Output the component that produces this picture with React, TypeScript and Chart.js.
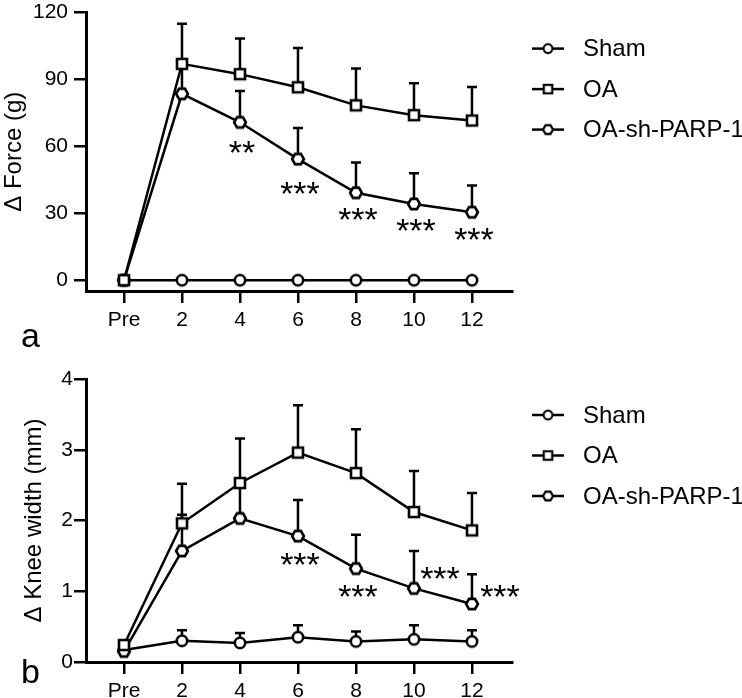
import React, { useEffect, useRef } from 'react';
import { Chart, registerables } from 'chart.js';

Chart.register(...registerables);

// ---------- data ----------
const X_LABELS = ['Pre', '2', '4', '6', '8', '10', '12'];
const SERIES_NAMES = ['Sham', 'OA', 'OA-sh-PARP-1'];

const FORCE_SHAM = [0, 0, 0, 0, 0, 0, 0];
const FORCE_SHAM_SD = [0, 0, 0, 0, 0, 0, 0];
const FORCE_OA = [0, 97, 92.4, 86.5, 78.4, 74, 71.6];
const FORCE_OA_SD = [0, 18, 16, 17.6, 16.5, 14.3, 15];
const FORCE_SH = [0, 83.6, 70.8, 54.3, 39.2, 34.2, 30.5];
const FORCE_SH_SD = [0, 12, 14, 14, 13.6, 13.8, 12];
const FORCE_SIG = ['', '', '**', '***', '***', '***', '***'];
const FORCE_TICKS = [0, 30, 60, 90, 120];

const KNEE_SHAM = [0.17, 0.3, 0.27, 0.35, 0.29, 0.32, 0.29];
const KNEE_SHAM_SD = [0, 0.15, 0.14, 0.17, 0.14, 0.2, 0.16];
const KNEE_OA = [0.24, 1.96, 2.53, 2.96, 2.67, 2.12, 1.86];
const KNEE_OA_SD = [0, 0.56, 0.63, 0.67, 0.62, 0.58, 0.53];
const KNEE_SH = [0.15, 1.57, 2.03, 1.78, 1.32, 1.04, 0.82];
const KNEE_SH_SD = [0, 0.51, 0.45, 0.51, 0.48, 0.53, 0.42];
const KNEE_SIG = ['', '', '', '***', '***', '***', '***'];
const KNEE_TICKS = [0, 1, 2, 3, 4];

// annotation placement (pixels relative to the marked point)
const FORCE_SIG_DX = [0, 0, 2, 2, 2, 2, 2];
const FORCE_SIG_DY = [0, 0, 23, 27, 19, 19, 20];
const KNEE_SIG_DX = [0, 0, 0, 2, 2, 26, 28];
const KNEE_SIG_DY = [0, 0, 0, 21, 20, -17, -15];

const FONT = "'Liberation Sans', Arial, sans-serif";

function makeMarker(kind: string): HTMLCanvasElement {
  const c = document.createElement('canvas');
  c.width = 20;
  c.height = 20;
  const ctx = c.getContext('2d')!;
  ctx.lineWidth = 2.6;
  ctx.strokeStyle = '#000';
  ctx.fillStyle = '#fff';
  ctx.beginPath();
  if (kind === 'circle') {
    ctx.arc(10, 10, 5.2, 0, Math.PI * 2);
  } else if (kind === 'square') {
    ctx.rect(5, 5, 10, 10);
  } else {
    for (let i = 0; i < 6; i++) {
      const a = (i * Math.PI) / 3;
      const px = 10 + 5.9 * Math.cos(a);
      const py = 10 + 5.9 * Math.sin(a);
      if (i === 0) ctx.moveTo(px, py);
      else ctx.lineTo(px, py);
    }
    ctx.closePath();
  }
  ctx.fill();
  ctx.stroke();
  return c;
}

const errorBarPlugin = {
  id: 'errorBars',
  beforeDatasetsDraw(chart: any, _args: any, opts: any) {
    const ctx = chart.ctx;
    const ys = chart.scales.y;
    (opts.errors || []).forEach((errs: number[], di: number) => {
      const meta = chart.getDatasetMeta(di);
      const ds = chart.data.datasets[di];
      errs.forEach((e, i) => {
        if (!e) return;
        const pt = meta.data[i];
        const top = ys.getPixelForValue(ds.data[i].y + e);
        ctx.save();
        ctx.strokeStyle = '#000';
        ctx.lineWidth = 2.5;
        ctx.beginPath();
        ctx.moveTo(pt.x, pt.y);
        ctx.lineTo(pt.x, top);
        ctx.moveTo(pt.x - 5, top);
        ctx.lineTo(pt.x + 5, top);
        ctx.stroke();
        ctx.restore();
      });
    });
  },
};

const sigPlugin = {
  id: 'sig',
  afterDatasetsDraw(chart: any, _args: any, opts: any) {
    const ctx = chart.ctx;
    const meta = chart.getDatasetMeta(opts.datasetIndex);
    ctx.save();
    ctx.fillStyle = '#000';
    ctx.font = `34px ${FONT}`;
    ctx.textAlign = 'center';
    ctx.textBaseline = 'alphabetic';
    (opts.labels as string[]).forEach((s, i) => {
      if (!s) return;
      const pt = meta.data[i];
      ctx.fillText(s, pt.x + opts.dx[i], pt.y + opts.dy[i] + 19);
    });
    ctx.restore();
  },
};

const legendPlugin = {
  id: 'customLegend',
  afterDraw(chart: any, _args: any, opts: any) {
    const ctx = chart.ctx;
    const area = chart.chartArea;
    ctx.save();
    (opts.items as any[]).forEach((it, i) => {
      const y = area.top + 36 + i * 40.5;
      const x0 = area.right + 20;
      ctx.strokeStyle = '#000';
      ctx.lineWidth = 2.5;
      ctx.beginPath();
      ctx.moveTo(x0, y);
      ctx.lineTo(x0 + 32, y);
      ctx.stroke();
      const m = it.marker as HTMLCanvasElement;
      const s = 0.85;
      ctx.drawImage(m, x0 + 16 - (m.width * s) / 2, y - (m.height * s) / 2, m.width * s, m.height * s);
      ctx.fillStyle = '#000';
      ctx.font = `24px ${FONT}`;
      ctx.textAlign = 'left';
      ctx.textBaseline = 'middle';
      ctx.fillText(it.text, x0 + 51, y + 1);
    });
    ctx.restore();
  },
};

const panelLabelPlugin = {
  id: 'panelLabel',
  afterDraw(chart: any, _args: any, opts: any) {
    const ctx = chart.ctx;
    ctx.save();
    ctx.fillStyle = '#000';
    ctx.font = `34px ${FONT}`;
    ctx.textAlign = 'left';
    ctx.textBaseline = 'alphabetic';
    ctx.fillText(opts.text, opts.x, opts.y);
    ctx.restore();
  },
};

function buildConfig(p: any) {
  const markers = [makeMarker('circle'), makeMarker('square'), makeMarker('hex')];
  const seriesList = [p.sham, p.oa, p.sh];
  const datasets = seriesList.map((vals: number[], k: number) => ({
    label: SERIES_NAMES[k],
    data: vals.map((v, i) => ({ x: i, y: v })),
    borderColor: '#000',
    borderWidth: 2.5,
    backgroundColor: '#fff',
    pointStyle: markers[k],
    pointRadius: 6,
    pointHoverRadius: 6,
    tension: 0,
    clip: false as any,
    order: k === 1 ? 0 : k === 0 ? 2 : 1,
  }));
  const tickFont = { family: FONT, size: 21 };
  return {
    type: 'line' as const,
    data: { datasets },
    options: {
      animation: false as const,
      responsive: false,
      devicePixelRatio: 1,
      events: [] as any[],
      layout: { padding: p.padding },
      scales: {
        x: {
          type: 'linear' as const,
          min: -0.655,
          max: 6.69,
          afterBuildTicks: (s: any) => {
            s.ticks = X_LABELS.map((_, i) => ({ value: i }));
          },
          afterFit: (s: any) => {
            s.height = 44;
          },
          ticks: {
            color: '#000',
            font: tickFont,
            padding: 5,
            maxRotation: 0,
            autoSkip: false,
            callback: (v: any) => X_LABELS[v] ?? '',
          },
          grid: { drawOnChartArea: false, drawTicks: true, tickLength: 12, lineWidth: 2.5, color: '#000' },
          border: { display: true, width: 3, color: '#000' },
        },
        y: {
          type: 'linear' as const,
          min: p.yMin,
          max: p.yMax,
          afterBuildTicks: (s: any) => {
            s.ticks = p.ticks.map((v: number) => ({ value: v }));
          },
          afterFit: (s: any) => {
            s.width = 86;
          },
          ticks: { color: '#000', font: tickFont, padding: p.tickPad, callback: (v: any) => String(v) },
          grid: { drawOnChartArea: false, drawTicks: true, tickLength: 12, lineWidth: 2.5, color: '#000' },
          border: { display: true, width: 3, color: '#000' },
          title: {
            display: true,
            text: p.title,
            color: '#000',
            font: { family: FONT, size: 24 },
            padding: { top: p.titlePad, bottom: 0 },
          },
        },
      },
      plugins: {
        legend: { display: false },
        tooltip: { enabled: false },
        errorBars: { errors: [p.shamSd, p.oaSd, p.shSd] },
        sig: { datasetIndex: 2, labels: p.sig, dx: p.sigDx, dy: p.sigDy },
        customLegend: {
          items: SERIES_NAMES.map((n, k) => ({ text: n, marker: markers[k] })),
        },
        panelLabel: p.panel,
      },
    },
    plugins: [errorBarPlugin, sigPlugin, legendPlugin, panelLabelPlugin],
  };
}

function Panel(props: { cfg: any; top: number; height: number }) {
  const ref = useRef<HTMLCanvasElement>(null);
  useEffect(() => {
    const chart = new Chart(ref.current!, buildConfig(props.cfg) as any);
    return () => chart.destroy();
  }, []);
  return (
    <canvas
      ref={ref}
      width={742}
      height={props.height}
      style={{ position: 'absolute', left: 0, top: props.top, width: 742, height: props.height }}
    />
  );
}

export default function App() {
  useEffect(() => {
    document.body.style.margin = '0';
    document.body.style.background = '#fff';
  }, []);
  const forceCfg = {
    sham: FORCE_SHAM, shamSd: FORCE_SHAM_SD,
    oa: FORCE_OA, oaSd: FORCE_OA_SD,
    sh: FORCE_SH, shSd: FORCE_SH_SD,
    sig: FORCE_SIG, sigDx: FORCE_SIG_DX, sigDy: FORCE_SIG_DY,
    ticks: FORCE_TICKS, yMin: -4.84, yMax: 120,
    title: 'Δ Force (g)', titlePad: 0, tickPad: 6,
    padding: { top: 13, left: 0, right: 230, bottom: 19 },
    panel: { text: 'a', x: 21, y: 353 },
  };
  const kneeCfg = {
    sham: KNEE_SHAM, shamSd: KNEE_SHAM_SD,
    oa: KNEE_OA, oaSd: KNEE_OA_SD,
    sh: KNEE_SH, shSd: KNEE_SH_SD,
    sig: KNEE_SIG, sigDx: KNEE_SIG_DX, sigDy: KNEE_SIG_DY,
    ticks: KNEE_TICKS, yMin: 0, yMax: 4,
    title: 'Δ Knee width (mm)', titlePad: 20, tickPad: 1,
    padding: { top: 39, left: 0, right: 230, bottom: 6 },
    panel: { text: 'b', x: 21, y: 343 },
  };
  return (
    <div style={{ position: 'fixed', left: 0, top: 0, width: 742, height: 698, overflow: 'hidden', background: '#fff' }}>
      <Panel cfg={forceCfg} top={-6} height={360} />
      <Panel cfg={kneeCfg} top={340} height={372} />
    </div>
  );
}
